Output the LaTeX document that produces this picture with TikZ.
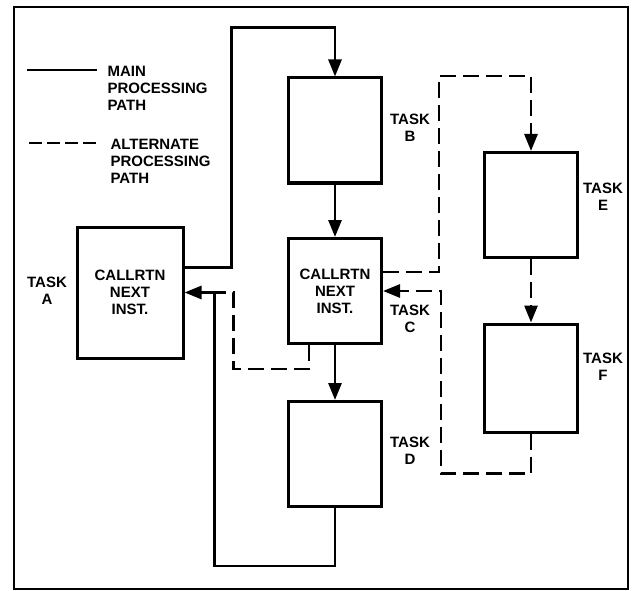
\documentclass[tikz,border=0pt]{standalone}
\usepackage{fontspec}
\setmainfont{Liberation Sans}
\usetikzlibrary{arrows.meta}

\begin{document}
\begin{tikzpicture}[x=1pt,y=-1pt,
    font=\bfseries\fontsize{15}{17}\selectfont,
    >={Triangle[length=17pt,width=13pt]},
    task/.style={draw,line width=3pt,minimum width=93pt,minimum height=105pt,align=center},
    tasklabel/.style={align=center},
    main/.style={line width=2.8pt},
    alt/.style={main,dash pattern=on 16pt off 7pt}]

% Page and frame
\useasboundingbox (0,0) rectangle (632,591);
\draw[line width=2.2pt] (14,7) rectangle (628,589);

% Legend
\coordinate (m1) at (27,70);
\coordinate (m2) at (97,70);
\coordinate (a1) at (29,143);
\coordinate (a2) at (97,143);
\draw[main] (m1) -- (m2);
\draw[alt,dash pattern=on 13pt off 5pt] (a1) -- (a2);
\node[anchor=west,align=left] (mtext) at (104,88) {MAIN\\PROCESSING\\PATH};
\node[anchor=west,align=left] (atext) at (107,161) {ALTERNATE\\PROCESSING\\PATH};

% Tasks
\node[task,minimum width=106pt,minimum height=131pt] (A) at (130,292.5) {CALLRTN\\NEXT\\INST.};
\node[task] (B) at (335,130.5) {};
\node[task] (C) at (335,291) {CALLRTN\\NEXT\\INST.};
\node[task] (D) at (335,454) {};
\node[task] (E) at (531,205) {};
\node[task,minimum height=108pt] (F) at (531,378) {};

% Task names
\node[tasklabel] (la) at (47,291) {TASK\\A};
\node[tasklabel] (lb) at (410,128) {TASK\\B};
\node[tasklabel] (lc) at (410,319) {TASK\\C};
\node[tasklabel] (ld) at (410,451) {TASK\\D};
\node[tasklabel] (le) at (603,197) {TASK\\E};
\node[tasklabel] (lf) at (603,367) {TASK\\F};

% Main processing path
\draw[main,->] ([yshift=25pt]A.east) -- ++(47,0) |- ([yshift=49pt]B.north) -- (B.north);
\draw[main,->] (B.south) -- (C.north);
\draw[main,->] (C.south) -- (D.north);
\draw[main,->] (D.south) -- ++(0,58) -| ([xshift=30pt]A.east) -- (A.east);

% Alternate processing path
\draw[alt] ([xshift=-26pt]C.south) -- ++(0,24) -| ([xshift=49pt]A.east) -- ([xshift=30pt]A.east);
\draw[alt,->] ([yshift=19pt]C.east) -- ++(56,0) |- ([yshift=75pt]E.north) -- (E.north);
\draw[alt,->] (E.south) -- (F.north);
\draw[alt,->] (F.south) -- ++(0,40) -| ([xshift=58pt]C.east) -- (C.east);

\end{tikzpicture}
\end{document}
